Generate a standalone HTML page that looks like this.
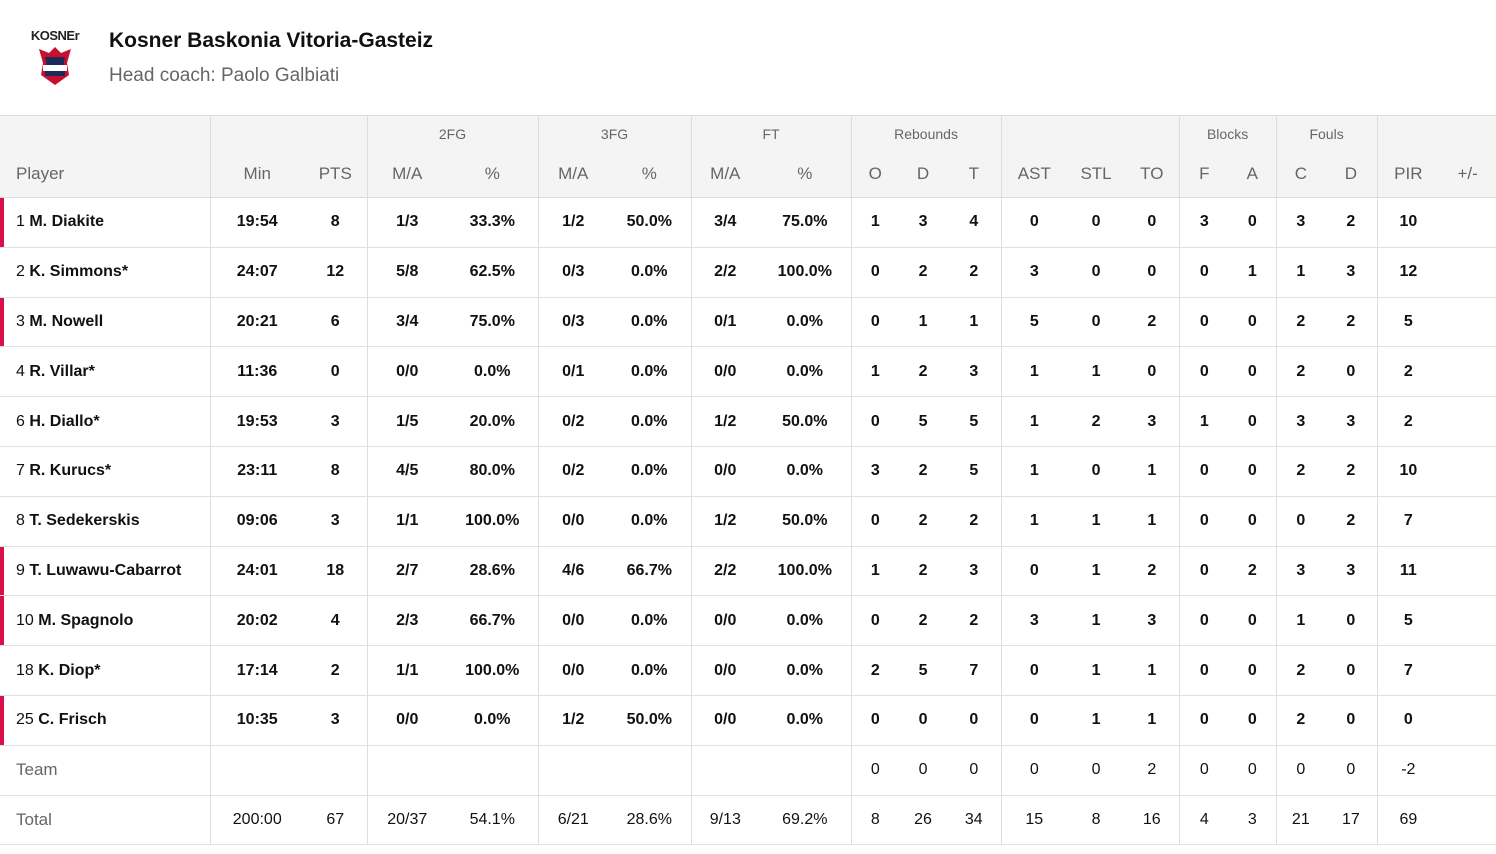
<!DOCTYPE html>
<html><head><meta charset="utf-8"><style>
body{margin:0;width:1496px;height:854px;background:#fff;font-family:"Liberation Sans",sans-serif;overflow:hidden;position:relative}
.logo{position:absolute;left:30px;top:28px;width:50px;text-align:center}
.title{position:absolute;left:109px;top:29px;font-size:21px;font-weight:bold;color:#111}
.coach{position:absolute;left:109px;top:65px;font-size:19px;color:#666}
table{position:absolute;left:0;top:115px;border-collapse:collapse;table-layout:fixed;width:1496px}
td,th{padding:0;text-align:center;font-size:16px}
thead th{background:#f4f4f4;font-weight:normal;color:#666}
thead tr.g th{height:35px;font-size:14px;border-top:1px solid #ddd}
thead tr.l th{height:46px;font-size:17px;border-bottom:1px solid #ddd}
tbody td{height:48.8px;border-bottom:1px solid #e0e0e0;font-weight:bold;color:#111}
.b{border-left:1px solid #ddd}
td.p,th.p{text-align:left;padding-left:16px}
td.s{box-shadow:inset 4px 0 0 #d8104a}
td.p span{font-weight:normal}
tr.t td{font-weight:normal}
tr.t td.p{color:#666;font-size:17px}
</style></head><body>
<div class="logo"><div style="font-size:13px;font-weight:bold;color:#222;letter-spacing:-0.5px">KOSNEr</div>
<svg width="40" height="44" viewBox="0 0 40 44"><path d="M4 6 L14 10 L20 4 L26 10 L36 6 L32 20 L34 32 L20 42 L6 32 L8 20Z" fill="#c8102e"/><path d="M10 14 L30 14 L28 24 L12 24Z" fill="#1c2a5a"/><rect x="8" y="22" width="24" height="6" fill="#fff"/><rect x="10" y="28" width="20" height="5" fill="#1c2a5a"/></svg></div>
<div class="title">Kosner Baskonia Vitoria-Gasteiz</div>
<div class="coach">Head coach: Paolo Galbiati</div>
<table>
<colgroup><col style="width:210px"><col style="width:94px"><col style="width:63px"><col style="width:80px"><col style="width:91px"><col style="width:70px"><col style="width:83px"><col style="width:68px"><col style="width:92px"><col style="width:48px"><col style="width:48px"><col style="width:54px"><col style="width:66px"><col style="width:58px"><col style="width:54px"><col style="width:50px"><col style="width:47px"><col style="width:49px"><col style="width:52px"><col style="width:62px"><col style="width:57px"></colgroup>
<thead>
<tr class="g"><th></th><th class="b" colspan="2"></th><th class="b" colspan="2">2FG</th><th class="b" colspan="2">3FG</th><th class="b" colspan="2">FT</th><th class="b" colspan="3">Rebounds</th><th class="b" colspan="3"></th><th class="b" colspan="2">Blocks</th><th class="b" colspan="2">Fouls</th><th class="b" colspan="2"></th></tr>
<tr class="l"><th class="p">Player</th><th class="b">Min</th><th>PTS</th><th class="b">M/A</th><th>%</th><th class="b">M/A</th><th>%</th><th class="b">M/A</th><th>%</th><th class="b">O</th><th>D</th><th>T</th><th class="b">AST</th><th>STL</th><th>TO</th><th class="b">F</th><th>A</th><th class="b">C</th><th>D</th><th class="b">PIR</th><th>+/-</th></tr>
</thead>
<tbody>
<tr><td class="p s"><span>1</span> M. Diakite</td><td class="b">19:54</td><td>8</td><td class="b">1/3</td><td>33.3%</td><td class="b">1/2</td><td>50.0%</td><td class="b">3/4</td><td>75.0%</td><td class="b">1</td><td>3</td><td>4</td><td class="b">0</td><td>0</td><td>0</td><td class="b">3</td><td>0</td><td class="b">3</td><td>2</td><td class="b">10</td><td></td></tr>
<tr><td class="p"><span>2</span> K. Simmons*</td><td class="b">24:07</td><td>12</td><td class="b">5/8</td><td>62.5%</td><td class="b">0/3</td><td>0.0%</td><td class="b">2/2</td><td>100.0%</td><td class="b">0</td><td>2</td><td>2</td><td class="b">3</td><td>0</td><td>0</td><td class="b">0</td><td>1</td><td class="b">1</td><td>3</td><td class="b">12</td><td></td></tr>
<tr><td class="p s"><span>3</span> M. Nowell</td><td class="b">20:21</td><td>6</td><td class="b">3/4</td><td>75.0%</td><td class="b">0/3</td><td>0.0%</td><td class="b">0/1</td><td>0.0%</td><td class="b">0</td><td>1</td><td>1</td><td class="b">5</td><td>0</td><td>2</td><td class="b">0</td><td>0</td><td class="b">2</td><td>2</td><td class="b">5</td><td></td></tr>
<tr><td class="p"><span>4</span> R. Villar*</td><td class="b">11:36</td><td>0</td><td class="b">0/0</td><td>0.0%</td><td class="b">0/1</td><td>0.0%</td><td class="b">0/0</td><td>0.0%</td><td class="b">1</td><td>2</td><td>3</td><td class="b">1</td><td>1</td><td>0</td><td class="b">0</td><td>0</td><td class="b">2</td><td>0</td><td class="b">2</td><td></td></tr>
<tr><td class="p"><span>6</span> H. Diallo*</td><td class="b">19:53</td><td>3</td><td class="b">1/5</td><td>20.0%</td><td class="b">0/2</td><td>0.0%</td><td class="b">1/2</td><td>50.0%</td><td class="b">0</td><td>5</td><td>5</td><td class="b">1</td><td>2</td><td>3</td><td class="b">1</td><td>0</td><td class="b">3</td><td>3</td><td class="b">2</td><td></td></tr>
<tr><td class="p"><span>7</span> R. Kurucs*</td><td class="b">23:11</td><td>8</td><td class="b">4/5</td><td>80.0%</td><td class="b">0/2</td><td>0.0%</td><td class="b">0/0</td><td>0.0%</td><td class="b">3</td><td>2</td><td>5</td><td class="b">1</td><td>0</td><td>1</td><td class="b">0</td><td>0</td><td class="b">2</td><td>2</td><td class="b">10</td><td></td></tr>
<tr><td class="p"><span>8</span> T. Sedekerskis</td><td class="b">09:06</td><td>3</td><td class="b">1/1</td><td>100.0%</td><td class="b">0/0</td><td>0.0%</td><td class="b">1/2</td><td>50.0%</td><td class="b">0</td><td>2</td><td>2</td><td class="b">1</td><td>1</td><td>1</td><td class="b">0</td><td>0</td><td class="b">0</td><td>2</td><td class="b">7</td><td></td></tr>
<tr><td class="p s"><span>9</span> T. Luwawu-Cabarrot</td><td class="b">24:01</td><td>18</td><td class="b">2/7</td><td>28.6%</td><td class="b">4/6</td><td>66.7%</td><td class="b">2/2</td><td>100.0%</td><td class="b">1</td><td>2</td><td>3</td><td class="b">0</td><td>1</td><td>2</td><td class="b">0</td><td>2</td><td class="b">3</td><td>3</td><td class="b">11</td><td></td></tr>
<tr><td class="p s"><span>10</span> M. Spagnolo</td><td class="b">20:02</td><td>4</td><td class="b">2/3</td><td>66.7%</td><td class="b">0/0</td><td>0.0%</td><td class="b">0/0</td><td>0.0%</td><td class="b">0</td><td>2</td><td>2</td><td class="b">3</td><td>1</td><td>3</td><td class="b">0</td><td>0</td><td class="b">1</td><td>0</td><td class="b">5</td><td></td></tr>
<tr><td class="p"><span>18</span> K. Diop*</td><td class="b">17:14</td><td>2</td><td class="b">1/1</td><td>100.0%</td><td class="b">0/0</td><td>0.0%</td><td class="b">0/0</td><td>0.0%</td><td class="b">2</td><td>5</td><td>7</td><td class="b">0</td><td>1</td><td>1</td><td class="b">0</td><td>0</td><td class="b">2</td><td>0</td><td class="b">7</td><td></td></tr>
<tr><td class="p s"><span>25</span> C. Frisch</td><td class="b">10:35</td><td>3</td><td class="b">0/0</td><td>0.0%</td><td class="b">1/2</td><td>50.0%</td><td class="b">0/0</td><td>0.0%</td><td class="b">0</td><td>0</td><td>0</td><td class="b">0</td><td>1</td><td>1</td><td class="b">0</td><td>0</td><td class="b">2</td><td>0</td><td class="b">0</td><td></td></tr>
<tr class="t"><td class="p">Team</td><td class="b"></td><td></td><td class="b"></td><td></td><td class="b"></td><td></td><td class="b"></td><td></td><td class="b">0</td><td>0</td><td>0</td><td class="b">0</td><td>0</td><td>2</td><td class="b">0</td><td>0</td><td class="b">0</td><td>0</td><td class="b">-2</td><td></td></tr>
<tr class="t"><td class="p">Total</td><td class="b">200:00</td><td>67</td><td class="b">20/37</td><td>54.1%</td><td class="b">6/21</td><td>28.6%</td><td class="b">9/13</td><td>69.2%</td><td class="b">8</td><td>26</td><td>34</td><td class="b">15</td><td>8</td><td>16</td><td class="b">4</td><td>3</td><td class="b">21</td><td>17</td><td class="b">69</td><td></td></tr>
</tbody></table>
</body></html>
